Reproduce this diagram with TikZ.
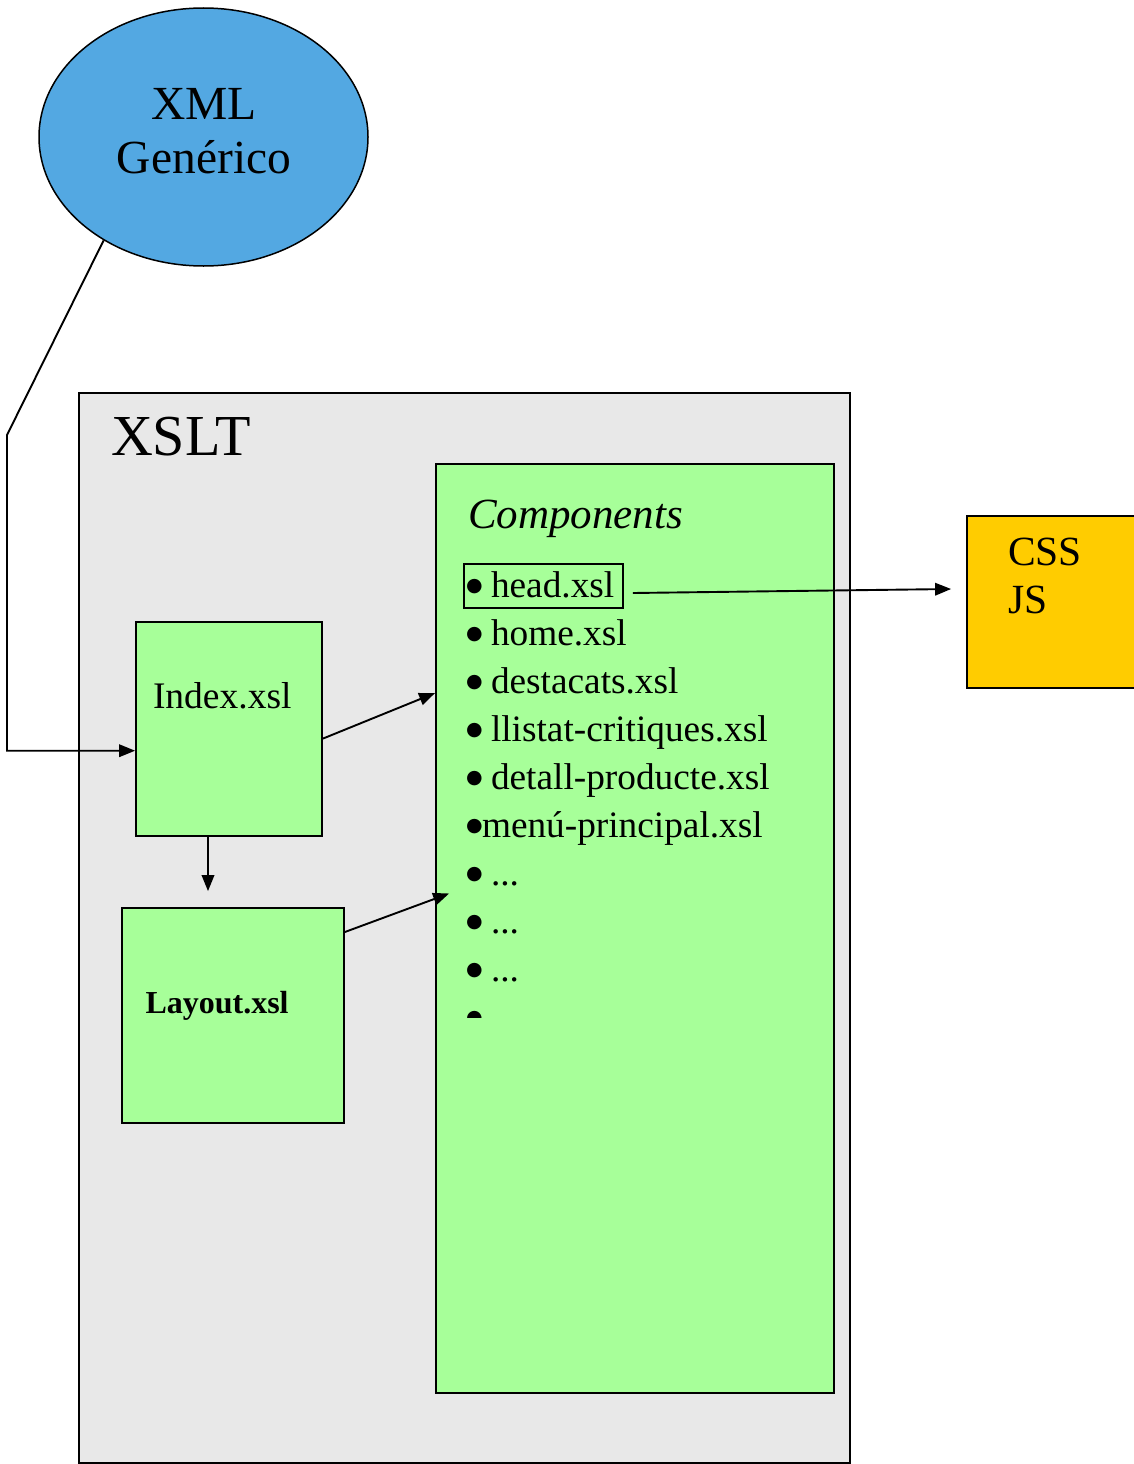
\documentclass[tikz,border=0pt]{standalone}
\usepackage{fontspec}
\setmainfont{Liberation Serif}
\newfontfamily\symfont{DejaVu Sans}
\usetikzlibrary{arrows.meta,shapes.geometric}

\definecolor{xmlblue}{HTML}{53A8E2}
\definecolor{panelgray}{HTML}{E8E8E8}
\definecolor{compgreen}{HTML}{A7FF99}
\definecolor{assetyellow}{HTML}{FFCC00}

% list bullet: a solid round dot
\newcommand{\itembul}{\makebox[13pt][c]{\raisebox{5.6pt}{\symfont\fontsize{19}{19}\selectfont ●}}}

\tikzset{
  box/.style={draw=black, line width=1.8pt, rectangle, inner sep=0pt},
  lbl/.style={anchor=base west, inner sep=0pt, outer sep=0pt},
  itemtext/.style={lbl, font=\fontsize{37.3}{44}\selectfont},
  conn/.style={draw=black, line width=1.9pt, -{Triangle[length=16pt,width=12.5pt]}},
}

\begin{document}
\begin{tikzpicture}[x=1pt, y=-1pt]
\useasboundingbox (0,0) rectangle (1134,1464);

% source document
\node[ellipse, draw=black, line width=1.5pt, fill=xmlblue, inner sep=0pt,
      minimum width=329pt, minimum height=258pt] (xml) at (203.5,137) {};
\node[anchor=base, inner sep=0pt, font=\fontsize{47.5}{54}\selectfont] (xmlt1) at (204,119) {XML};
\node[anchor=base, inner sep=0pt, font=\fontsize{47.5}{54}\selectfont] (xmlt2) at (204,173) {Genérico};

% transformation panel
\node[box, fill=panelgray, line width=1.6pt, minimum width=771pt, minimum height=1070pt] (xslt) at (464.5,928) {};
\node[lbl, font=\fontsize{58}{62}\selectfont] (xsltt) at (111,455) {XSLT};

% components list
\node[box, fill=compgreen, minimum width=398pt, minimum height=929pt] (comp) at (635,928.5) {};
\node[lbl, font=\fontsize{43}{50}\itshape\selectfont] (compt) at (468,528) {Components};

\node[box, line width=1.6pt, minimum width=159pt, minimum height=44pt] (headbox) at (543.5,586) {};
\node[itemtext] (i1) at (468,597) {\itembul\hspace{10pt}head.xsl};
\node[itemtext] (i2) at (468,645) {\itembul\hspace{10pt}home.xsl};
\node[itemtext] (i3) at (468,693) {\itembul\hspace{10pt}destacats.xsl};
\node[itemtext] (i4) at (468,741) {\itembul\hspace{10pt}llistat-critiques.xsl};
\node[itemtext] (i5) at (468,789) {\itembul\hspace{10pt}detall-producte.xsl};
\node[itemtext] (i6) at (468,837) {\itembul\hspace{1pt}menú-principal.xsl};
\node[itemtext] (i7) at (468,885) {\itembul\hspace{10pt}...};
\node[itemtext] (i8) at (468,933) {\itembul\hspace{10pt}...};
\node[itemtext] (i9) at (468,981) {\itembul\hspace{10pt}...};
\begin{scope}
  \clip (440,990) rectangle (520,1017.5);
  \node[itemtext] (i10) at (468,1029) {\itembul};
\end{scope}

% page templates
\node[box, fill=compgreen, minimum width=186pt, minimum height=214pt] (index) at (229,729) {};
\node[lbl, font=\fontsize{37.5}{44}\selectfont] (indext) at (153,708) {Index.xsl};
\node[box, fill=compgreen, minimum width=222pt, minimum height=215pt] (layout) at (233,1015.5) {};
\node[lbl, font=\fontsize{32}{38}\bfseries\selectfont] (layoutt) at (145.5,1013) {Layout.xsl};

% static assets
\node[box, fill=assetyellow, minimum width=183pt, minimum height=172pt] (css) at (1058.5,602) {};
\node[lbl, font=\fontsize{41.5}{48}\selectfont] (csst) at (1008,565) {CSS};
\node[lbl, font=\fontsize{41.5}{48}\selectfont] (jst) at (1008,613) {JS};

% connectors
\coordinate (bend) at (7,435);
\draw[conn] (xml.226) -- (bend) |- ([shift={(0,21.7)}]index.west);
\draw[conn] ([shift={(0,9.6)}]index.east) -- ([shift={(0,-235.5)}]comp.west);
\draw[conn] ([shift={(-21,0)}]index.south) -- ([shift={(-25,-16)}]layout.north);
\draw[conn] ([shift={(0,-83.5)}]layout.east) -- ([shift={(14,-35)}]comp.west);
\draw[conn] ([shift={(9,7)}]headbox.east) -- ([shift={(-15,-13)}]css.west);
\end{tikzpicture}
\end{document}
